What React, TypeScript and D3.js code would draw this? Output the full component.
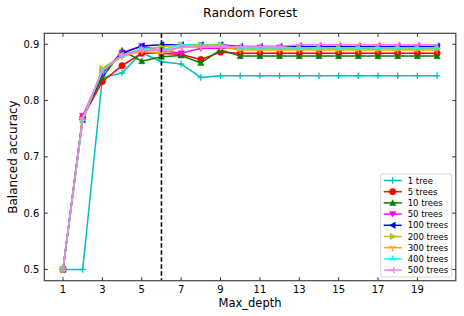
import React from "react";
import * as d3 from "d3";

const depths = d3.range(1, 21);
const seriesNames = ["1 tree", "5 trees", "10 trees", "50 trees", "100 trees", "200 trees", "300 trees", "400 trees", "500 trees"];
const colors = ["#00bfbf", "#ff0000", "#008000", "#ff00ff", "#0000ff", "#bfbf00", "#ffa500", "#00ffff", "#ee82ee"];
const markers = ["plus", "circle", "triUp", "triDown", "triLeft", "triRight", "tri1", "tri2", "tri3"];

const tree1 = [0.5, 0.5, 0.841, 0.849, 0.885, 0.869, 0.865, 0.841, 0.844, 0.844, 0.844, 0.844, 0.844, 0.844, 0.844, 0.844, 0.844, 0.844, 0.844, 0.844];
const trees5 = [0.5, 0.77, 0.834, 0.862, 0.884, 0.884, 0.882, 0.873, 0.886, 0.884, 0.884, 0.884, 0.884, 0.884, 0.884, 0.884, 0.884, 0.884, 0.884, 0.884];
const trees10 = [0.5, 0.77, 0.841, 0.889, 0.870, 0.878, 0.880, 0.867, 0.890, 0.879, 0.879, 0.879, 0.879, 0.879, 0.879, 0.879, 0.879, 0.879, 0.879, 0.879];
const trees50 = [0.5, 0.773, 0.85, 0.885, 0.897, 0.889, 0.884, 0.893, 0.893, 0.893, 0.894, 0.894, 0.895, 0.895, 0.895, 0.895, 0.895, 0.895, 0.895, 0.895];
const trees100 = [0.5, 0.766, 0.85, 0.884, 0.897, 0.899, 0.899, 0.899, 0.899, 0.896, 0.896, 0.896, 0.896, 0.896, 0.896, 0.896, 0.896, 0.896, 0.896, 0.896];
const trees200 = [0.5, 0.765, 0.857, 0.88, 0.891, 0.895, 0.899, 0.899, 0.899, 0.892, 0.892, 0.892, 0.892, 0.892, 0.892, 0.892, 0.892, 0.892, 0.892, 0.892];
const trees300 = [0.5, 0.765, 0.855, 0.878, 0.888, 0.883, 0.895, 0.895, 0.895, 0.89, 0.89, 0.89, 0.89, 0.89, 0.89, 0.89, 0.89, 0.89, 0.89, 0.89];
const trees400 = [0.5, 0.767, 0.853, 0.88, 0.892, 0.89, 0.899, 0.898, 0.898, 0.894, 0.894, 0.894, 0.894, 0.894, 0.894, 0.894, 0.894, 0.894, 0.894, 0.894];
const trees500 = [0.5, 0.77, 0.852, 0.881, 0.89, 0.888, 0.895, 0.895, 0.896, 0.896, 0.896, 0.896, 0.899, 0.899, 0.899, 0.899, 0.899, 0.899, 0.899, 0.899];
const allSeries = [tree1, trees5, trees10, trees50, trees100, trees200, trees300, trees400, trees500];

const xTicks = [1, 3, 5, 7, 9, 11, 13, 15, 17, 19];
const yTicks = [0.5, 0.6, 0.7, 0.8, 0.9];
const bestDepth = 6;

const W = 464, H = 316;
const L = 44.3, R = 455.8, T = 33.3, B = 280.7;

function Marker({ type, x, y, color }: { type: string; x: number; y: number; color: string }) {
  const s = 3.2;
  const sw = 1.3;
  const tri = (pts: number[][]) => (
    <polygon points={pts.map(p => `${x + p[0]},${y + p[1]}`).join(" ")} fill={color} stroke={color} strokeWidth={0.5} />
  );
  const spokes = (angles: number[]) => (
    <g stroke={color} strokeWidth={sw}>
      {angles.map((a, i) => (
        <line key={i} x1={x} y1={y} x2={x + s * 1.1 * Math.cos(a)} y2={y + s * 1.1 * Math.sin(a)} />
      ))}
    </g>
  );
  const r = s;
  switch (type) {
    case "plus":
      return (
        <g stroke={color} strokeWidth={sw}>
          <line x1={x - r} y1={y} x2={x + r} y2={y} />
          <line x1={x} y1={y - r} x2={x} y2={y + r} />
        </g>
      );
    case "circle":
      return <circle cx={x} cy={y} r={r} fill={color} stroke={color} strokeWidth={0.5} />;
    case "triUp":
      return tri([[0, -r], [r, r * 0.8], [-r, r * 0.8]]);
    case "triDown":
      return tri([[0, r], [r, -r * 0.8], [-r, -r * 0.8]]);
    case "triLeft":
      return tri([[-r, 0], [r * 0.8, -r], [r * 0.8, r]]);
    case "triRight":
      return tri([[r, 0], [-r * 0.8, -r], [-r * 0.8, r]]);
    case "tri1":
      return spokes([Math.PI / 2, Math.PI / 2 + (2 * Math.PI) / 3, Math.PI / 2 - (2 * Math.PI) / 3]);
    case "tri2":
      return spokes([-Math.PI / 2, -Math.PI / 2 + (2 * Math.PI) / 3, -Math.PI / 2 - (2 * Math.PI) / 3]);
    case "tri3":
      return spokes([Math.PI, Math.PI + (2 * Math.PI) / 3, Math.PI - (2 * Math.PI) / 3]);
    default:
      return null;
  }
}

export default function App() {
  const x = d3.scaleLinear().domain([0.05, 20.95]).range([L, R]);
  const y = d3.scaleLinear().domain([0.48, 0.9195]).range([B, T]);
  const line = d3.line<number>().x((_, i) => x(depths[i])).y(d => y(d));
  const font = "DejaVu Sans, sans-serif";
  const legX = 380.7, legY = 174, legW = 71, legH = 103, rowH = 11.2;

  return (
    <svg width={W} height={H} style={{ position: "absolute", left: 0, top: 0 }} fontFamily={font}>
      <rect width={W} height={H} fill="#fff" />
      <text x={(L + R) / 2} y={16.5} textAnchor="middle" fontSize={12.5} fill="#000">Random Forest</text>

      {allSeries.map((vals, si) => (
        <g key={si}>
          <path d={line(vals) || ""} fill="none" stroke={colors[si]} strokeWidth={1.5} />
          {vals.map((v, i) => (
            <Marker key={i} type={markers[si]} x={x(depths[i])} y={y(v)} color={colors[si]} />
          ))}
        </g>
      ))}

      <line x1={x(bestDepth)} x2={x(bestDepth)} y1={T} y2={B} stroke="#000" strokeWidth={1.6} strokeDasharray="4.5,2.5" />

      <rect x={L} y={T} width={R - L} height={B - T} fill="none" stroke="#444" strokeWidth={1.2} />

      {xTicks.map(t => (
        <g key={t}>
          <line x1={x(t)} x2={x(t)} y1={B} y2={B - 3.5} stroke="#333" strokeWidth={1} />
          <line x1={x(t)} x2={x(t)} y1={T} y2={T + 3.5} stroke="#333" strokeWidth={1} />
          <text x={x(t)} y={B + 12} textAnchor="middle" fontSize={10} fill="#000">{t}</text>
        </g>
      ))}
      {yTicks.map(t => (
        <g key={t}>
          <line x1={L} x2={L + 3.5} y1={y(t)} y2={y(t)} stroke="#333" strokeWidth={1} />
          <line x1={R} x2={R - 3.5} y1={y(t)} y2={y(t)} stroke="#333" strokeWidth={1} />
          <text x={L - 5} y={y(t) + 3.5} textAnchor="end" fontSize={10} fill="#000">{t.toFixed(1)}</text>
        </g>
      ))}

      <text x={(L + R) / 2} y={306.5} textAnchor="middle" fontSize={11.5} fill="#000">Max_depth</text>
      <text transform={`translate(16.5,${(T + B) / 2}) rotate(-90)`} textAnchor="middle" fontSize={12} fill="#000">Balanced accuracy</text>

      <rect x={legX} y={legY} width={legW} height={legH} fill="#fff" fillOpacity={0.8} stroke="#ccc" strokeWidth={0.8} rx={2} />
      {seriesNames.map((name, i) => {
        const cy = legY + 6.5 + i * rowH;
        return (
          <g key={name}>
            <line x1={legX + 3} x2={legX + 21} y1={cy} y2={cy} stroke={colors[i]} strokeWidth={1.5} />
            <Marker type={markers[i]} x={legX + 12} y={cy} color={colors[i]} />
            <text x={legX + 27} y={cy + 3} fontSize={8.5} fill="#000">{name}</text>
          </g>
        );
      })}
    </svg>
  );
}
